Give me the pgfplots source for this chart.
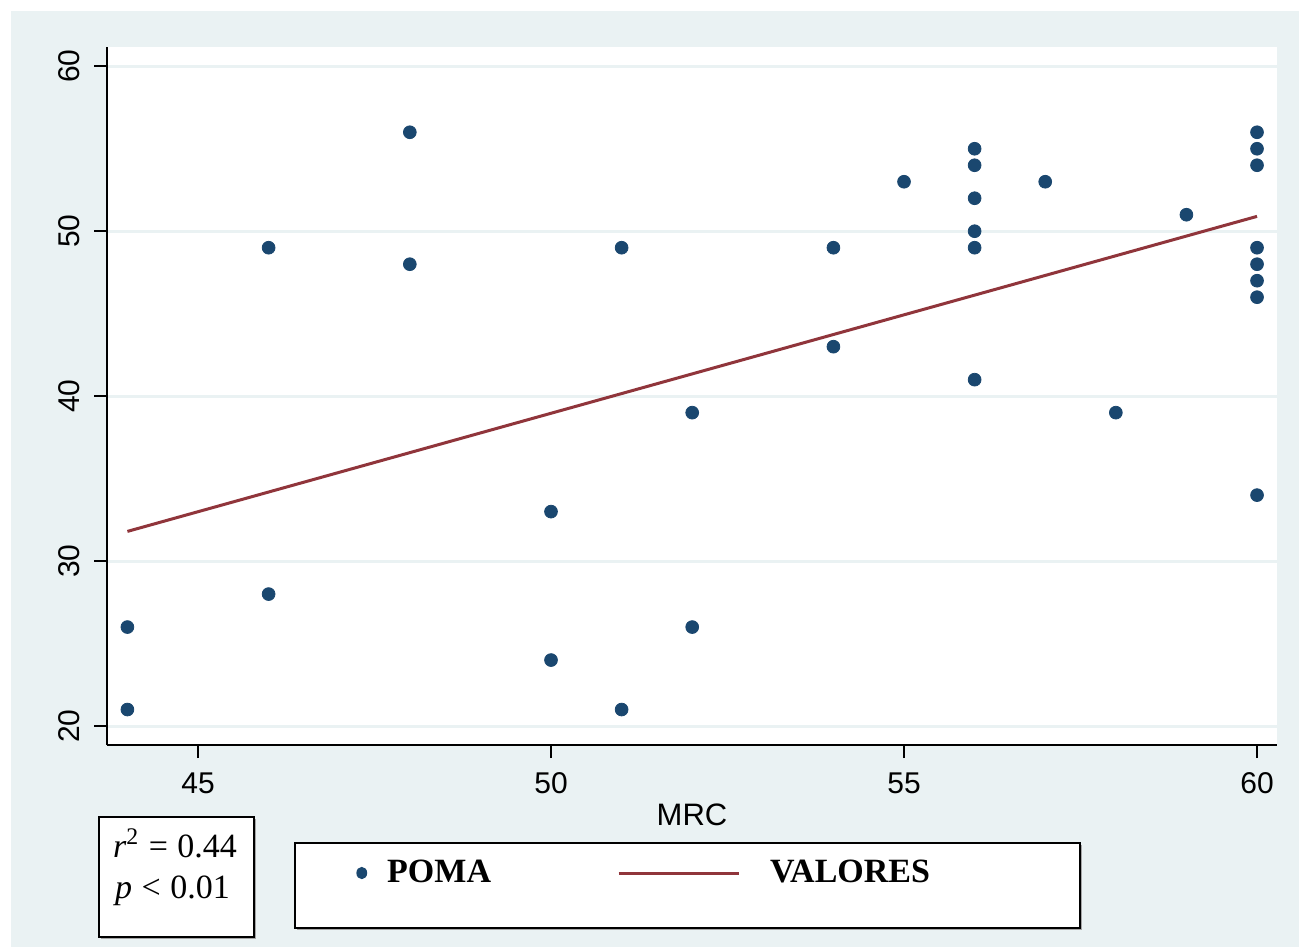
\documentclass[border=0pt]{standalone}
\usepackage{fontspec}
\setmainfont{Liberation Sans}
\newfontfamily\timesfont{Liberation Serif}
\usepackage{pgfplots}
\usepackage{pgfplotstable}
\pgfplotsset{compat=1.18}
\definecolor{bgc}{RGB}{234,242,243}
\definecolor{navyc}{RGB}{26,71,111}
\definecolor{maroonc}{RGB}{144,53,59}

\pgfplotstableread{
x y
44 26
44 21
46 49
46 28
48 56
48 48
50 33
50 24
51 49
51 21
52 39
52 26
54 49
54 43
55 53
56 55
56 54
56 52
56 50
56 49
56 41
57 53
58 39
59 51
60 56
60 55
60 54
60 49
60 48
60 47
60 46
60 34
}\poma

\pgfplotstableread{
x y
44 31.8
60 50.9
}\valores

\begin{document}
\begin{tikzpicture}[x=0.5pt,y=0.5pt]
\fill[white] (0,0) rectangle (1299,947);
\fill[bgc] (11,0) rectangle (1299,936);
% r^2 box
\fill[gray!70] (101,8) rectangle (256,128);
\draw[black, line width=0.6pt, fill=white] (99,10) rectangle (254,130);
\node[anchor=base, inner sep=0pt, font=\timesfont\fontsize{17}{19}\selectfont] at (175,90) {\textit{r}\textsuperscript{2}\;=\;0.44};
\node[anchor=base, inner sep=0pt, font=\timesfont\fontsize{17}{19}\selectfont] at (172.5,49) {\textit{p}\;<\;0.01};
% legend box
\fill[gray!70] (297,17) rectangle (1082,102);
\draw[black, line width=1.2pt, fill=white] (295,19) rectangle (1080,104);
\begin{axis}[
 at={(53.5pt,101pt)}, anchor=south west, scale only axis,
 width=585pt, height=349pt,
 xmin=43.711, xmax=60.283, ymin=18.85, ymax=61.17,
 axis background/.style={fill=white},
 axis x line*=bottom, axis y line*=left,
 axis line style={line width=0.8pt, black},
 xtick={45,50,55,60}, ytick={20,30,40,50,60},
 tick align=outside, major tick length=6.5pt,
 tick style={line width=0.8pt, black},
 ymajorgrids, major grid style={line width=1.5pt, bgc},
 /pgf/number format/assume math mode=true,
 ticklabel style={font=\fontsize{15}{18}\selectfont, inner sep=0pt},
 xticklabel style={anchor=north},
 yticklabel style={rotate=90, anchor=south},
 xticklabel shift=7pt, yticklabel shift=7pt,
 xlabel={MRC},
 xlabel style={font=\fontsize{15.5}{18}\selectfont, at={(axis description cs:0.5,-0.0831)}, anchor=north, inner sep=0pt},
 legend columns=2,
 legend style={draw=none, fill=none, inner sep=0pt,
   at={(axis description cs:0.2128,-0.1834)}, anchor=west,
   nodes={inner sep=0pt, font=\timesfont\bfseries\fontsize{17}{19}\selectfont},
   /tikz/column 1/.style={column sep=10pt},
   /tikz/column 2/.style={column sep=63pt},
   /tikz/column 3/.style={column sep=15pt}},
]
\addplot[only marks, mark=*, mark size=3.2pt, color=navyc, mark options={draw=navyc, fill=navyc},
  legend image code/.code={\fill[navyc, draw=none] (3pt,0pt) ellipse [x radius=2.7pt, y radius=3.1pt];}]
  table[x=x, y=y] {\poma};
\addlegendentry{POMA}
\addplot[color=maroonc, line width=1.5pt,
  legend image code/.code={\draw (0pt,0pt) -- (60pt,0pt);}]
  table[x=x, y=y] {\valores};
\addlegendentry{VALORES}
\end{axis}
\end{tikzpicture}
\end{document}
